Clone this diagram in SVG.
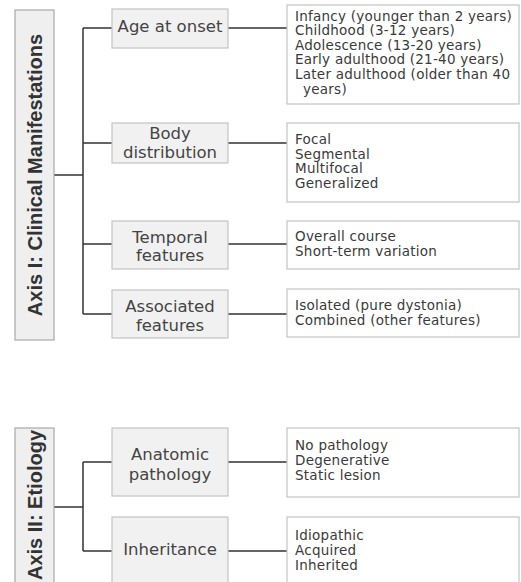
<svg xmlns="http://www.w3.org/2000/svg" width="521" height="582" viewBox="0 0 521 582">
<style>
.axis{fill:#efefef;stroke:#a8a8a8;stroke-width:1.2}
.axt{font-family:"Liberation Sans",Arial,sans-serif;font-weight:bold;font-size:20px;fill:#333;text-anchor:middle}
.mid{fill:#f1f1f1;stroke:#c4c4c4;stroke-width:1.2}
.midt{font-family:"DejaVu Sans",sans-serif;font-size:16.5px;fill:#444;text-anchor:middle}
.lst{fill:#fff;stroke:#c4c4c4;stroke-width:1.2}
.lstt{font-family:"DejaVu Sans",sans-serif;font-size:13.5px;letter-spacing:0.25px;fill:#3a3a3a}
.con{fill:none;stroke:#333;stroke-width:1.5}
</style>
<rect width="521" height="582" fill="#fff"/>
<g id="connectors" class="con">
<path d="M54 175H83M83 28V314M83 28H112M83 143H112M83 244H112M83 314H112"/>
<path d="M228 28H287M228 143H287M228 244H287M228 314H287"/>
<path d="M54 507H83M83 462V551M83 462H112M83 551H112"/>
<path d="M228 462H287M228 551H287"/>
</g>
<g id="axis1">
<rect class="axis" x="15" y="10" width="39" height="330"/>
<text class="axt" transform="translate(42 175) rotate(-90)">Axis I: Clinical Manifestations</text>
</g>
<g id="age">
<rect class="mid" x="112" y="9" width="116" height="39"/>
<text class="midt" x="170" y="32">Age at onset</text>
</g>
<g id="body">
<rect class="mid" x="112" y="123" width="116" height="40"/>
<text class="midt" x="170" y="139">Body</text>
<text class="midt" x="170" y="157.5">distribution</text>
</g>
<g id="temporal">
<rect class="mid" x="112" y="221" width="116" height="48"/>
<text class="midt" x="170" y="242.5">Temporal</text>
<text class="midt" x="170" y="261">features</text>
</g>
<g id="associated">
<rect class="mid" x="112" y="290" width="116" height="48"/>
<text class="midt" x="170" y="311.5">Associated</text>
<text class="midt" x="170" y="330.5">features</text>
</g>
<g id="age-list">
<rect class="lst" x="287" y="5" width="232" height="99"/>
<text class="lstt" x="295" y="20.5">Infancy (younger than 2 years)</text>
<text class="lstt" x="295" y="35.1">Childhood (3-12 years)</text>
<text class="lstt" x="295" y="49.7">Adolescence (13-20 years)</text>
<text class="lstt" x="295" y="64.3">Early adulthood (21-40 years)</text>
<text class="lstt" x="295" y="78.9">Later adulthood (older than 40</text>
<text class="lstt" x="303" y="93.5">years)</text>
</g>
<g id="body-list">
<rect class="lst" x="287" y="123" width="232" height="79"/>
<text class="lstt" x="295" y="144">Focal</text>
<text class="lstt" x="295" y="158.5">Segmental</text>
<text class="lstt" x="295" y="173">Multifocal</text>
<text class="lstt" x="295" y="187.5">Generalized</text>
</g>
<g id="temporal-list">
<rect class="lst" x="287" y="221" width="232" height="48"/>
<text class="lstt" x="295" y="241">Overall course</text>
<text class="lstt" x="295" y="256">Short-term variation</text>
</g>
<g id="associated-list">
<rect class="lst" x="287" y="289" width="232" height="48"/>
<text class="lstt" x="295" y="310">Isolated (pure dystonia)</text>
<text class="lstt" x="295" y="325">Combined (other features)</text>
</g>
<g id="axis2">
<rect class="axis" x="15" y="428" width="39" height="180"/>
<text class="axt" transform="translate(42 505) rotate(-90)">Axis II: Etiology</text>
</g>
<g id="anatomic">
<rect class="mid" x="112" y="428" width="116" height="68"/>
<text class="midt" x="170" y="460">Anatomic</text>
<text class="midt" x="170" y="480">pathology</text>
</g>
<g id="inheritance">
<rect class="mid" x="112" y="517" width="116" height="80"/>
<text class="midt" x="170" y="555">Inheritance</text>
</g>
<g id="anatomic-list">
<rect class="lst" x="287" y="428" width="232" height="69"/>
<text class="lstt" x="295" y="450">No pathology</text>
<text class="lstt" x="295" y="465">Degenerative</text>
<text class="lstt" x="295" y="480">Static lesion</text>
</g>
<g id="inheritance-list">
<rect class="lst" x="287" y="517" width="232" height="80"/>
<text class="lstt" x="295" y="540">Idiopathic</text>
<text class="lstt" x="295" y="555">Acquired</text>
<text class="lstt" x="295" y="570">Inherited</text>
</g>
</svg>
